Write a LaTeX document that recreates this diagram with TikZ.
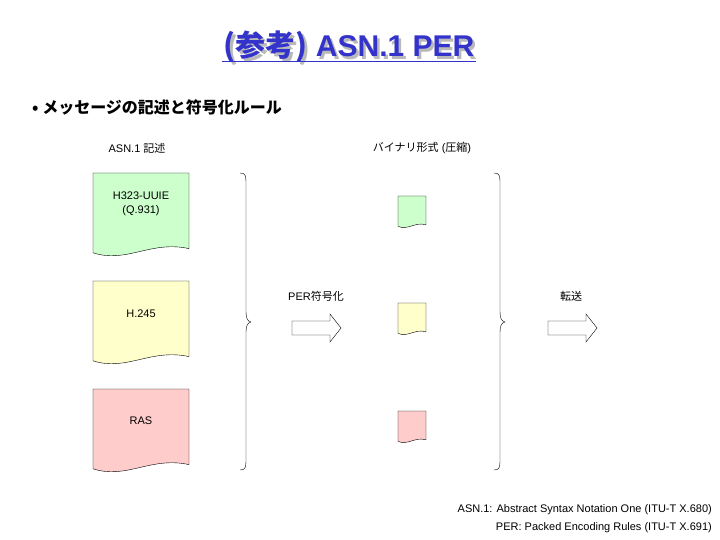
\documentclass[tikz,border=0pt]{standalone}
\usepackage{fontspec}
\setmainfont{Liberation Sans}
\newfontfamily\cjk{Noto Sans CJK JP}
\newcommand{\J}[1]{{\cjk #1}}
\usetikzlibrary{calc}
\definecolor{ttl}{RGB}{51,51,204}
\definecolor{gfill}{RGB}{204,255,204}
\definecolor{yfill}{RGB}{255,255,204}
\definecolor{rfill}{RGB}{255,204,204}
\tikzset{lbl/.style={inner sep=0pt,font=\fontsize{11}{13.5}\selectfont}}
\newcommand{\docshp}[5]{%
 \draw[fill=#5,line width=0.4pt] (#1,#2)--(#1+#3,#2)--(#1+#3,#2+0.9*#4)
  .. controls (#1+0.6*#3,#2+0.8*#4) and (#1+0.35*#3,#2+1.08*#4) .. (#1,#2+0.95*#4)--cycle;}
\newcommand{\blkarrow}[3]{%
 \draw[fill=white] (#2,#3-7)--(#2+38,#3-7)--(#2+38,#3-14)--(#2+49,#3)--(#2+38,#3+14)--(#2+38,#3+7)--(#2,#3+7)--cycle;
 \coordinate (#1) at (#2+24,#3);}
\begin{document}
\begin{tikzpicture}[x=1pt,y=-1pt]
\useasboundingbox (0,0) rectangle (720,540);
\node[text=gray!55,font=\fontsize{30}{32}\selectfont\bfseries] at (351.5,49.5) {\J{(参考)} ASN.1 PER};
\node (title)[text=ttl,font=\fontsize{30}{32}\selectfont\bfseries] at (349,47) {\J{(参考)} ASN.1 PER};
\draw[ttl,line width=1.5pt] ($(title.south west)+(2,-5)$) -- ($(title.south east)+(-2,-5)$);
\node (bul)[anchor=west,inner sep=0pt,font=\fontsize{16}{18}\selectfont\bfseries\cjk] at (32,107) {• メッセージの記述と符号化ルール};
\node (h1)[lbl] at (137,148) {ASN.1 \J{記述}};
\node (h2)[lbl] at (422,148) {\J{バイナリ形式} (\J{圧縮})};
\docshp{93}{173}{96}{84}{gfill}
\docshp{93}{281}{96}{84}{yfill}
\docshp{93}{389}{96}{84}{rfill}
\node (d1)[lbl,align=center] at (141,204) {H323-UUIE\\(Q.931)};
\node (d2)[lbl] at (141,314) {H.245};
\node (d3)[lbl] at (141,421) {RAS};
\docshp{398}{196}{28}{32}{gfill}
\docshp{398}{303}{28}{32}{yfill}
\docshp{398}{411}{28}{32}{rfill}
\draw (240,173) .. controls (246,173) and (246,176) .. (246,185) -- (246,310) .. controls (246,318) and (247,321) .. (251,322)
 .. controls (247,323) and (246,326) .. (246,334) -- (246,458) .. controls (246,467) and (246,470) .. (240,470);
\draw (494,173) .. controls (500,173) and (500,176) .. (500,185) -- (500,310) .. controls (500,318) and (501,321) .. (505,322)
 .. controls (501,323) and (500,326) .. (500,334) -- (500,458) .. controls (500,467) and (500,470) .. (494,470);
\blkarrow{a1}{292}{328}
\blkarrow{a2}{548}{328}
\node (l1)[lbl] at (316,296) {PER\J{符号化}};
\node (l2)[lbl] at (571,296) {\J{転送}};
\node (f1)[lbl,anchor=east] at (712,510) {ASN.1: Abstract Syntax Notation One (ITU-T X.680)};
\node (f2)[lbl,anchor=east] at (712,528) {PER: Packed Encoding Rules (ITU-T X.691)};
\end{tikzpicture}
\end{document}
